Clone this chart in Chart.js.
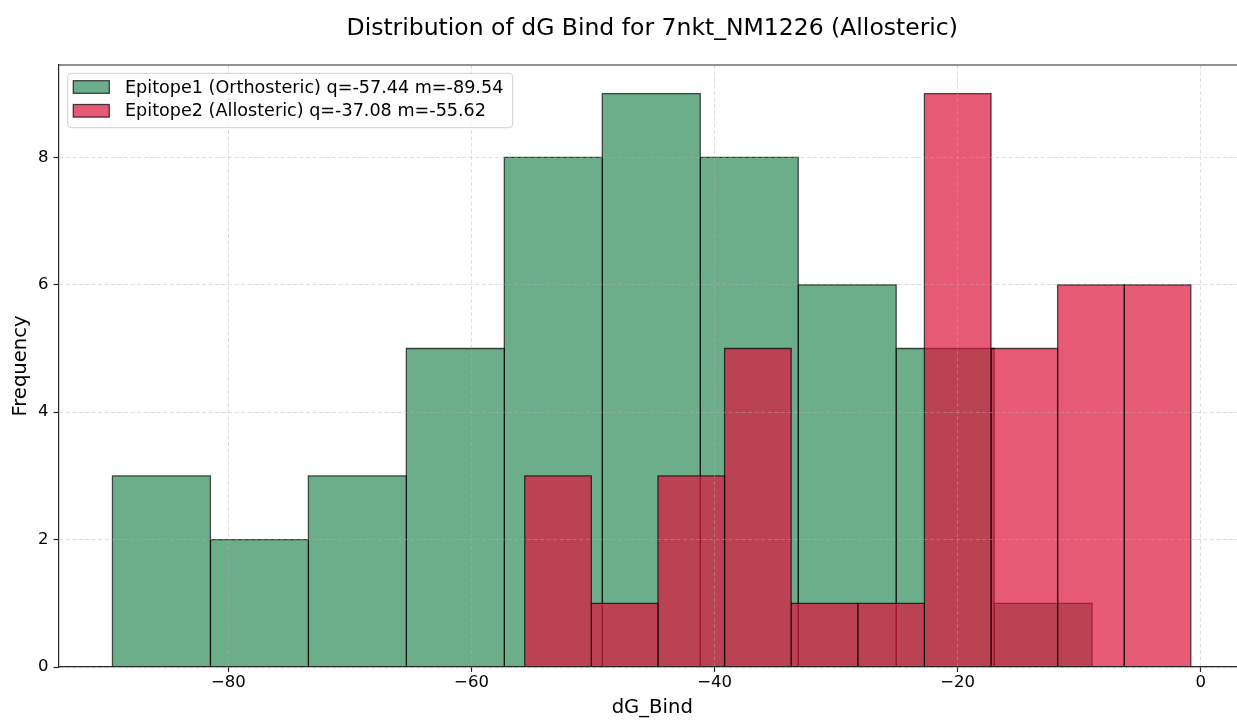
<!DOCTYPE html>
<html><head><meta charset="utf-8">
<script src="https://cdn.jsdelivr.net/npm/chart.js@4.4.0/dist/chart.umd.min.js"></script>
<style>
html,body{margin:0;padding:0;background:#fff;overflow:hidden;width:1237px;height:720px}
#wrap{position:relative;width:1250px;height:720px}
</style></head>
<body><div id="wrap"><canvas id="c"></canvas></div>
<script>
// ---- data ----
const chartTitle = 'Distribution of dG Bind for 7nkt_NM1226 (Allosteric)';
const xLabel = 'dG_Bind';
const yLabel = 'Frequency';
const epi1Label = 'Epitope1 (Orthosteric) q=-57.44 m=-89.54';
const epi2Label = 'Epitope2 (Allosteric) q=-37.08 m=-55.62';
const epi1Edges = [-89.54, -81.48, -73.42, -65.36, -57.30, -49.24, -41.18, -33.12, -25.06, -17.00, -8.94];
const epi1Counts = [3, 2, 3, 5, 8, 9, 8, 6, 5, 1];
const epi2Edges = [-55.62, -50.14, -44.66, -39.18, -33.70, -28.22, -22.74, -17.26, -11.78, -6.30, -0.82];
const epi2Counts = [3, 1, 3, 5, 1, 1, 9, 5, 6, 6];
const xTicks = [-80, -60, -40, -20, 0];
const yTicks = [0, 2, 4, 6, 8];
const xRange = [-93.98, 3.72];
const yRange = [0, 9.45];

// ---- styles ----
const FONT = '"DejaVu Sans", sans-serif';
const greenFill = 'rgba(46,139,87,0.7)';
const redFill = 'rgba(220,20,60,0.7)';
const edgeCol = 'rgba(0,0,0,0.7)';
const spineCol = '#262626';

function binDatasets(edges, counts, fill, order, label) {
  return counts.map((c, i) => ({
    label: label, order: order,
    data: [{x: edges[i], y: 0}, {x: edges[i], y: c}, {x: edges[i + 1], y: c}, {x: edges[i + 1], y: 0}],
    backgroundColor: fill, borderColor: edgeCol, borderWidth: 1.3,
    fill: 'origin', pointRadius: 0, pointHoverRadius: 0, tension: 0,
    borderJoinStyle: 'miter'
  }));
}

const datasets = [
  ...binDatasets(epi2Edges, epi2Counts, redFill, 0, epi2Label),
  ...binDatasets(epi1Edges, epi1Counts, greenFill, 1, epi1Label)
];

const minus = v => (v < 0 ? '\u2212' + Math.abs(v) : String(v));

const framePlugin = {
  id: 'topSpine',
  afterDraw(chart) {
    const {ctx, chartArea: a} = chart;
    ctx.save();
    ctx.strokeStyle = spineCol; ctx.lineWidth = 1.2;
    ctx.beginPath(); ctx.moveTo(a.left, a.top); ctx.lineTo(a.right, a.top); ctx.stroke();
    ctx.beginPath(); ctx.moveTo(a.right, a.top); ctx.lineTo(a.right, a.bottom); ctx.stroke();
    ctx.restore();
  }
};

const legendPlugin = {
  id: 'mplLegend',
  afterDraw(chart) {
    const {ctx, chartArea: a} = chart;
    const items = [{label: epi1Label, color: greenFill}, {label: epi2Label, color: redFill}];
    const fs = 17.6;
    ctx.save();
    ctx.font = fs + 'px ' + FONT;
    const tw = Math.max(...items.map(it => ctx.measureText(it.label).width));
    const x0 = a.left + 9.2, y0 = a.top + 8.3;
    const padL = 5.6, hw = 36, hh = 12.6, gap = 15.7, rowH = 23.8, padR = 9.3;
    const w = padL + hw + gap + tw + padR;
    const h = 54.4;
    const r = 3.5;
    ctx.beginPath();
    ctx.moveTo(x0 + r, y0); ctx.lineTo(x0 + w - r, y0); ctx.quadraticCurveTo(x0 + w, y0, x0 + w, y0 + r);
    ctx.lineTo(x0 + w, y0 + h - r); ctx.quadraticCurveTo(x0 + w, y0 + h, x0 + w - r, y0 + h);
    ctx.lineTo(x0 + r, y0 + h); ctx.quadraticCurveTo(x0, y0 + h, x0, y0 + h - r);
    ctx.lineTo(x0, y0 + r); ctx.quadraticCurveTo(x0, y0, x0 + r, y0); ctx.closePath();
    ctx.fillStyle = 'rgba(255,255,255,0.8)'; ctx.fill();
    ctx.strokeStyle = '#d0d0d0'; ctx.lineWidth = 1; ctx.stroke();
    items.forEach((it, i) => {
      const cy = y0 + 13.7 + i * rowH;
      const hx = x0 + padL;
      ctx.fillStyle = it.color; ctx.fillRect(hx, cy - hh / 2, hw, hh);
      ctx.strokeStyle = edgeCol; ctx.lineWidth = 1.3; ctx.strokeRect(hx, cy - hh / 2, hw, hh);
      ctx.fillStyle = '#000'; ctx.textBaseline = 'middle'; ctx.textAlign = 'left';
      ctx.fillText(it.label, hx + hw + gap, cy + 1);
    });
    ctx.restore();
  }
};

new Chart(document.getElementById('c'), {
  type: 'line',
  data: {datasets},
  plugins: [framePlugin, legendPlugin],
  options: {
    responsive: true, maintainAspectRatio: false, animation: false,
    layout: {padding: {left: 0, right: 4, top: 0, bottom: 0}},
    events: [],
    plugins: {
      legend: {display: false},
      tooltip: {enabled: false},
      title: {
        display: true, text: chartTitle, fullSize: false, color: '#000',
        font: {family: FONT, size: 23.5, weight: 'normal', lineHeight: 1.2},
        padding: {top: 15, bottom: 21.8}
      }
    },
    scales: {
      x: {
        type: 'linear', min: xRange[0], max: xRange[1],
        afterFit: s => { s.height = 53; },
        afterBuildTicks: s => { s.ticks = xTicks.map(v => ({value: v})); },
        ticks: {color: '#000', font: {family: FONT, size: 16.5}, padding: 1, callback: v => minus(v), maxRotation: 0},
        grid: {color: 'rgba(176,176,176,0.45)', lineWidth: 0.9, z: 1, drawTicks: true, tickLength: 5, tickColor: spineCol, tickWidth: 1.2, tickBorderDash: []},
        border: {display: true, color: spineCol, width: 1.2, dash: [4, 2.5], z: 2},
        title: {display: true, text: xLabel, color: '#000', font: {family: FONT, size: 19.6, lineHeight: 1.2}, padding: {top: 0, bottom: 0}}
      },
      y: {
        type: 'linear', min: yRange[0], max: yRange[1],
        afterFit: s => { s.width = 58.5; },
        afterBuildTicks: s => { s.ticks = yTicks.map(v => ({value: v})); },
        ticks: {color: '#000', font: {family: FONT, size: 16.5}, padding: 5, callback: v => minus(v)},
        grid: {color: 'rgba(176,176,176,0.45)', lineWidth: 0.9, z: 1, drawTicks: true, tickLength: 5, tickColor: spineCol, tickWidth: 1.2, tickBorderDash: []},
        border: {display: true, color: spineCol, width: 1.2, dash: [4, 2.5], z: 2},
        title: {display: true, text: yLabel, color: '#000', font: {family: FONT, size: 19.6, lineHeight: 1.2}, padding: {top: 9, bottom: 0}}
      }
    }
  }
});
</script>
</body></html>
